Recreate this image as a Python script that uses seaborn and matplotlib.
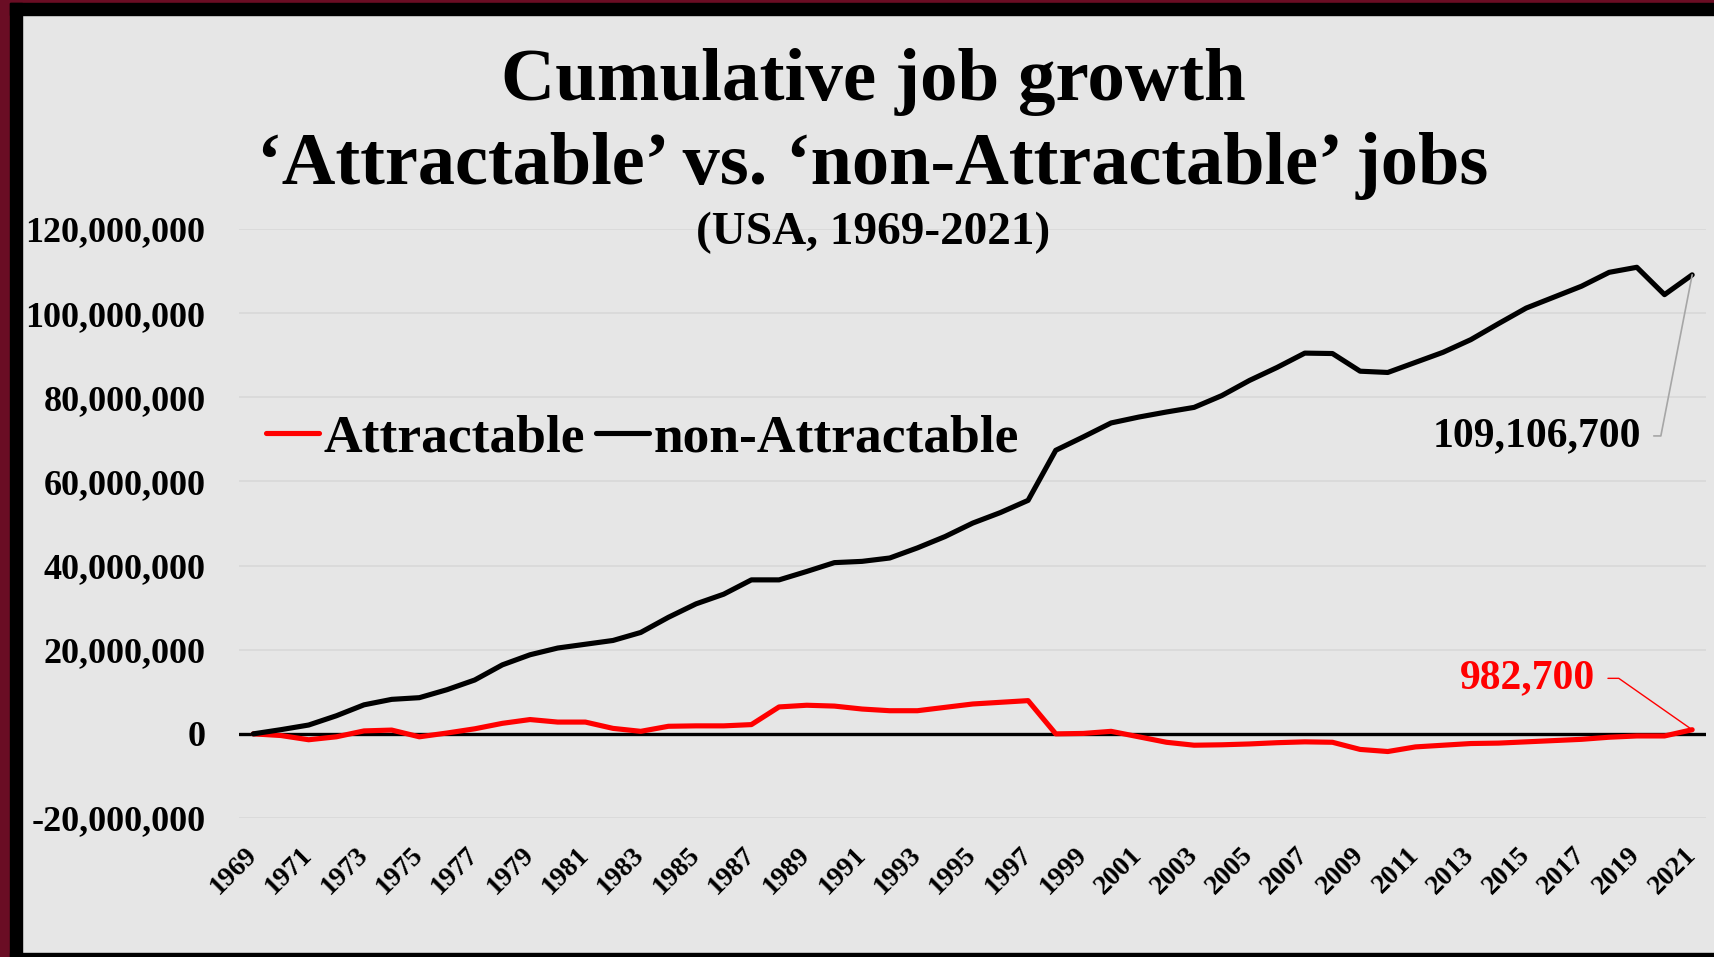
import matplotlib
matplotlib.use("Agg")
import matplotlib.pyplot as plt
from matplotlib.patches import Rectangle
from matplotlib.ticker import FuncFormatter, MultipleLocator
import pandas as pd
import seaborn as sns

# Cumulative change in jobs since 1969 (USA)
years = list(range(1969, 2022))
attractable = [
    0, -400_000, -1_400_000, -700_000, 700_000, 900_000, -700_000, 200_000,
    1_200_000, 2_500_000, 3_400_000, 2_800_000, 2_800_000, 1_300_000, 600_000,
    1_800_000, 1_900_000, 1_900_000, 2_200_000, 6_400_000, 6_800_000, 6_600_000,
    5_900_000, 5_500_000, 5_500_000, 6_300_000, 7_100_000, 7_500_000, 7_900_000,
    0, 100_000, 600_000, -700_000, -2_000_000, -2_700_000, -2_600_000,
    -2_400_000, -2_100_000, -1_900_000, -2_000_000, -3_700_000, -4_200_000,
    -3_100_000, -2_700_000, -2_300_000, -2_200_000, -1_900_000, -1_600_000,
    -1_300_000, -800_000, -500_000, -500_000, 982_700,
]
non_attractable = [
    0, 1_000_000, 2_100_000, 4_300_000, 6_900_000, 8_200_000, 8_600_000,
    10_500_000, 12_800_000, 16_400_000, 18_800_000, 20_400_000, 21_300_000,
    22_200_000, 24_100_000, 27_700_000, 30_900_000, 33_200_000, 36_600_000,
    36_600_000, 38_600_000, 40_700_000, 41_000_000, 41_800_000, 44_200_000,
    46_900_000, 50_100_000, 52_600_000, 55_500_000, 67_400_000, 70_600_000,
    73_900_000, 75_300_000, 76_500_000, 77_600_000, 80_400_000, 84_000_000,
    87_100_000, 90_500_000, 90_400_000, 86_200_000, 85_900_000, 88_300_000,
    90_700_000, 93_700_000, 97_500_000, 101_200_000, 103_800_000,
    106_400_000, 109_700_000, 110_900_000, 104_400_000, 109_106_700,
]
series_names = ["Attractable", "non-Attractable"]
series_colors = ["#ff0000", "#000000"]
title_lines = ["Cumulative job growth",
               "\u2018Attractable\u2019 vs. \u2018non-Attractable\u2019 jobs",
               "(USA, 1969-2021)"]

df = pd.concat([
    pd.DataFrame({"year": years, "jobs": attractable, "group": series_names[0]}),
    pd.DataFrame({"year": years, "jobs": non_attractable, "group": series_names[1]}),
])

BG = "#e6e6e6"
sns.set_theme(style="white")
plt.rcParams["font.family"] = ["Liberation Serif", "DejaVu Serif"]
plt.rcParams["font.weight"] = "bold"
plt.rcParams["text.color"] = "black"
plt.rcParams["xtick.color"] = "black"
plt.rcParams["ytick.color"] = "black"
plt.rcParams["axes.labelcolor"] = "black"

W, H = 1714, 957
fig = plt.figure(figsize=(W / 100, H / 100), dpi=100, facecolor=BG)

# frame around the slide
def frame(x, y, w, h, color):
    fig.patches.append(Rectangle((x / W, 1 - (y + h) / H), w / W, h / H,
                                 transform=fig.transFigure, color=color,
                                 zorder=10))

frame(0, 0, 10, H, "#6a0d24")
frame(0, 0, W, 3, "#6a0d24")
frame(10, 3, 12, H - 3, "#000000")
frame(10, 3, W - 10, 12, "#000000")
frame(10, H - 4, W - 10, 4, "#000000")

ax_left, ax_right, ax_top, ax_bottom = 239.5, 1706, 229, 818
ax = fig.add_axes([ax_left / W, 1 - ax_bottom / H,
                   (ax_right - ax_left) / W, (ax_bottom - ax_top) / H])
ax.set_facecolor(BG)

sns.lineplot(data=df, x="year", y="jobs", hue="group", hue_order=series_names,
             palette=series_colors, linewidth=3.7, ax=ax, legend=True,
             zorder=3)

ax.axhline(0, color="black", lw=2.4, zorder=2)

ax.set_xlim(years[0] - 0.5, years[-1] + 0.5)
ax.set_ylim(-20_000_000, 120_000_000)
ax.yaxis.set_major_locator(MultipleLocator(20_000_000))
ax.yaxis.set_major_formatter(FuncFormatter(lambda v, p: f"{v:,.0f}"))
ax.yaxis.grid(True, color="#d9d9d9", lw=1.3, zorder=0)
ax.xaxis.grid(False)
for s in ax.spines.values():
    s.set_visible(False)

ax.set_xticks(years[::2])
ax.set_xticklabels([str(y) for y in years[::2]], rotation=45, ha="right",
                   va="center", rotation_mode="anchor", fontsize=20,
                   fontweight="bold", color="black")
ax.tick_params(axis="x", length=0, pad=24)
ax.tick_params(axis="y", length=0, pad=24.5, labelsize=26, labelcolor="black")
for t in ax.get_yticklabels():
    t.set_fontweight("bold")
ax.set_xlabel("")
ax.set_ylabel("")

# legend across the upper-left part of the plot
handles, labels = ax.get_legend_handles_labels()
leg = ax.legend(handles, labels, loc="center left",
                bbox_to_anchor=(266 / W, 1 - 438 / H),
                bbox_transform=fig.transFigure, ncol=2, frameon=False,
                handlelength=1.0, handletextpad=0.08, columnspacing=0.2,
                borderpad=0, borderaxespad=0,
                prop={"weight": "bold", "size": 38.5})
for t in leg.get_texts():
    t.set_color("black")

# end-of-series value labels
ax.annotate(f"{non_attractable[-1]:,.0f}", xy=(years[-1], non_attractable[-1]),
            xytext=(-37, -116), textcoords="offset points", ha="right",
            va="center", fontsize=30, fontweight="bold", color="black",
            arrowprops=dict(arrowstyle="-", color="#a6a6a6", lw=1.2,
                            shrinkA=7, shrinkB=0, relpos=(1, 0.5),
                            connectionstyle="angle,angleA=0,angleB=79,rad=0"))
ax.annotate(f"{attractable[-1]:,.0f}", xy=(years[-1], attractable[-1]),
            xytext=(-70, 37), textcoords="offset points", ha="right",
            va="center", fontsize=30, fontweight="bold", color="#ff0000",
            arrowprops=dict(arrowstyle="-", color="#ff0000", lw=1.0,
                            shrinkA=7, shrinkB=0, relpos=(1, 0.5),
                            connectionstyle="angle,angleA=0,angleB=-35,rad=0"))

# title block
cx = 873 / W
fig.text(cx, 1 - 100 / H, title_lines[0], ha="center", va="baseline",
         fontsize=54, fontweight="bold", color="black")
fig.text(cx, 1 - 184 / H, title_lines[1], ha="center", va="baseline",
         fontsize=53.5, fontweight="bold", color="black")
fig.text(cx, 1 - 244 / H, title_lines[2], ha="center", va="baseline",
         fontsize=34, fontweight="bold", color="black")

fig.savefig("out.png", dpi=100, facecolor=BG)
